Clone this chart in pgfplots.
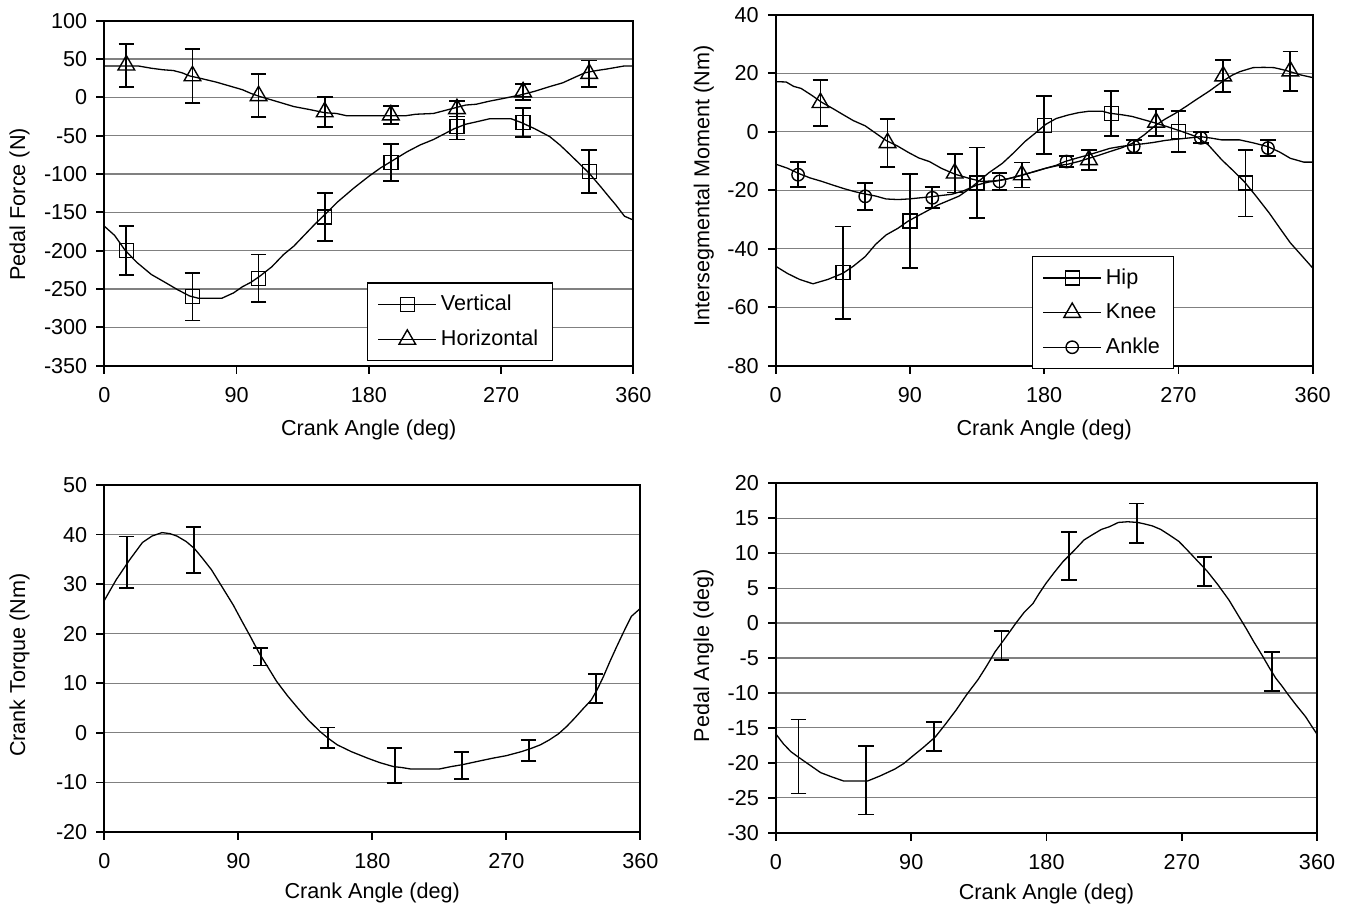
\documentclass[border=0pt]{standalone}
\usepackage{fontspec}
\setmainfont{Liberation Sans}
\usepackage{pgfplots}
\pgfplotsset{compat=1.18}
\newcommand{\fs}{\fontsize{10.8}{13}\selectfont}

\pgfplotsset{
  pan/.style={
    scale only axis,
    xmin=0, xmax=360, xtick={0,90,180,270,360},
    xtick pos=bottom, ytick pos=left,
    tick align=outside, major tick length=3.9pt,
    tick style={black, line width=0.9pt},
    axis line style={black, line width=0.9pt},
    ymajorgrids, major grid style={black!50, line width=0.6pt},
    /pgf/number format/assume math mode=true,
    tick label style={font=\fs},
    y tick label style={xshift=-1.1pt},
    x tick label style={yshift=-3.2pt},
    label style={font=\fs},
    xlabel={Crank Angle (deg)},
    xlabel style={at={(axis description cs:0.5,0)}, anchor=center, yshift=-32pt},
    legend style={draw=black, line width=0.6pt, fill=white, font=\fs,
      inner xsep=5pt, inner ysep=4pt, row sep=4.2pt, cells={anchor=west}},
    legend image code/.code={\draw[mark repeat=2,mark phase=2,#1]
      plot coordinates {(0pt,0pt) (14.5pt,0pt) (29pt,0pt)};},
    clip=false,
  },
  crv/.style={black, line width=0.65pt, mark=none, forget plot},
  ebar/.style={forget plot,
    error bars/y dir=both, error bars/y explicit,
    error bars/error bar style={draw=black, line width=0.9pt},
    error bars/error mark options={draw=black, rotate=90, mark size=3.9pt, line width=0.9pt}},
  bonly/.style={draw=none, mark=none},
  msq/.style={mark=square, mark size=3.5pt, mark options={fill=white, draw=black, line width=0.7pt}},
  mtr/.style={mark=triangle, mark size=4.8pt, mark options={fill=white, draw=black, line width=0.7pt}},
  mci/.style={mark=o, mark size=3.1pt, mark options={fill=white, draw=black, line width=0.7pt}},
}

\begin{document}
\begin{tikzpicture}
\path[use as bounding box] (0,0) rectangle (677.5pt,-453pt);

% ---------- top left: pedal force
\begin{axis}[pan,
  at={(52.15pt,-182.85pt)}, anchor=south west,
  width=264.5pt, height=172.5pt,
  ymin=-350, ymax=100, ytick={-350,-300,...,100},
  ylabel={Pedal Force (N)},
  ylabel style={at={(axis description cs:-0.160,0.468)}, anchor=center},
  legend style={at={(axis description cs:0.4967,0.2413)}, anchor=north west},
]
\addplot[crv] coordinates {
 (0,-168) (7,-180) (14,-199) (22,-215) (32,-231) (42,-242) (50,-251) (58,-259)
 (64,-262) (80,-262) (88,-255) (94,-247) (100,-241) (106,-233) (114,-221)
 (122,-205) (129,-194) (136,-180) (143,-166) (150,-153) (159,-136) (170,-118)
 (180,-103) (188,-92) (194,-85) (200,-78) (206,-71) (215,-62) (224,-55)
 (232,-47) (238,-41) (246,-35) (253,-32) (262,-28) (277,-28) (284,-33)
 (293,-41) (303,-51) (310,-62) (315,-71) (322,-84) (330,-99) (338,-117)
 (344,-131) (348,-140) (354,-155) (360,-160)};
\addplot[crv] coordinates {
 (0,41) (23,41) (32,38) (40,36) (47,35) (53,32) (58,28) (65,25) (76,20)
 (85,15) (94,10) (100,5) (106,1) (115,-4) (122,-8) (129,-12) (140,-16)
 (150,-20) (158,-21) (165,-24) (180,-24) (194,-24) (205,-24) (212,-22)
 (224,-21) (232,-17) (238,-14) (246,-10) (253,-9) (262,-5) (270,-2) (283,3)
 (293,8) (303,14) (312,19) (320,26) (327,32) (335,35) (342,37) (348,39)
 (354,41) (360,41)};
\addplot[ebar, only marks, msq] table[x=x, y=y, y error=e] {
x y e
15 -200 32
60 -260 31
105 -236 31
150 -156 31
195 -85 24
240 -38 17
285 -33 19
330 -97 28
};
\addplot[ebar, only marks, mtr] table[x=x, y=y, y error=e] {
x y e
15 42 28
60 28 35
105 2 28
150 -19 20
195 -23 12
240 -15 10
285 7 10
330 31 17
};
\addlegendimage{black, line width=0.65pt, msq}
\addlegendentry{Vertical}
\addlegendimage{black, line width=0.65pt, mtr}
\addlegendentry{Horizontal}
\end{axis}

% ---------- top right: intersegmental moment
\begin{axis}[pan,
  at={(387.85pt,-182.85pt)}, anchor=south west,
  width=268.5pt, height=175.5pt,
  ymin=-80, ymax=40, ytick={-80,-60,...,40},
  ylabel={Intersegmental Moment (Nm)},
  ylabel style={at={(axis description cs:-0.134,0.512)}, anchor=center},
  legend style={at={(axis description cs:0.4772,0.3125)}, anchor=north west},
]
\addplot[crv] coordinates {
 (0,-46) (8,-48.5) (16,-50.5) (25,-52) (35,-50.5) (45,-48.4) (52,-46) (60,-42.7)
 (67,-38.5) (74,-35.3) (82,-33) (89,-30.5) (100,-27.5) (109,-25) (116,-23.5)
 (123,-22) (130,-19.5) (135,-17.4) (143,-14) (152,-10.8) (160,-7) (167,-3.4)
 (174,-0.5) (181,2.5) (188,4.5) (196,5.7) (203,6.5) (210,7) (219,7) (224,6.3)
 (232,5.8) (239,5.2) (246,4.2) (253,3.2) (262,1.8) (271,0.3) (276,-0.6)
 (282,-1.7) (290,-4.5) (299,-9.6) (306,-13) (314,-17) (322,-22) (331,-27.9)
 (338,-33) (345,-38) (352,-42) (360,-46.6)};
\addplot[crv] coordinates {
 (0,17.1) (7,17) (12,15.5) (17,14.8) (24,12.5) (31,10) (38,8) (45.6,5.7)
 (52,3.8) (60,2) (67,-0.5) (74,-3) (82,-5) (89,-7.1) (96,-9) (103,-10.2)
 (111,-12.5) (120,-14.5) (130,-16) (138,-17) (147,-16.8) (155,-16.2)
 (166,-14.8) (174,-13.5) (181,-12.5) (188,-11.7) (196,-11.1) (203,-10.2)
 (210,-9.1) (217,-8) (224,-6.8) (232,-5.5) (239,-4) (247,-1.1) (255,2.3)
 (261,4.3) (268,6.3) (275,8.6) (282,11) (291,14) (301,17.7) (306,19.3)
 (311,20.5) (320,21.9) (327,22) (334,21.9) (340,21.2) (345,20.5) (352,19.4)
 (360,18.5)};
\addplot[crv] coordinates {
 (0,-11.1) (8,-12.5) (15,-14.2) (23,-15.8) (31,-17) (38,-18.2) (46,-19.5)
 (53,-20.5) (60,-21.3) (67,-22) (74,-23) (82,-23.2) (89,-23) (97,-22.6)
 (105,-22.2) (111,-21.8) (118,-21.4) (126,-20.2) (135,-18.2) (143,-17.2)
 (150,-16.7) (158,-15.8) (167,-14.5) (174,-13.6) (181,-12.5) (188,-11.5)
 (194,-10.2) (202,-9) (210,-7.9) (217,-6.8) (224,-5.7) (232,-5) (240,-4.5)
 (247,-4.1) (253,-3.7) (261,-3) (268,-2.6) (276,-2.2) (285,-1.7) (292,-2.2)
 (299,-2.8) (311,-2.8) (320,-3.8) (330,-5.1) (338,-7) (345,-9.1) (354,-10.4)
 (360,-10.4)};
\addplot[ebar, only marks, msq] table[x=x, y=y, y error=e] {
x y e
45 -48.2 15.8
90 -30.5 16
135 -17.5 12.1
180 2.2 9.9
225 6.3 7.7
270 0 7
315 -17.6 11.4
};
\addplot[ebar, only marks, mtr] table[x=x, y=y, y error=e] {
x y e
30 9.9 7.9
75 -3.8 8.2
120 -14.2 6.6
165 -14.8 4.3
210 -9.6 3.4
255 3.2 4.6
300 19 5.5
345 20.7 6.7
};
\addplot[ebar, only marks, mci] table[x=x, y=y, y error=e] {
x y e
15 -14.7 4.3
60 -22.1 4.6
105 -22.6 3.6
150 -17 2.9
195 -10.2 1.9
240 -5 2.2
285 -2.1 1.9
330 -5.6 2.8
};
\addlegendimage{black, line width=0.65pt, msq}
\addlegendentry{Hip}
\addlegendimage{black, line width=0.65pt, mtr}
\addlegendentry{Knee}
\addlegendimage{black, line width=0.65pt, mci}
\addlegendentry{Ankle}
\end{axis}

% ---------- bottom left: crank torque
\begin{axis}[pan,
  at={(52.15pt,-416pt)}, anchor=south west,
  width=268pt, height=173.5pt,
  ymin=-20, ymax=50, ytick={-20,-10,...,50},
  ylabel={Crank Torque (Nm)},
  ylabel style={at={(axis description cs:-0.158,0.481)}, anchor=center},
  xlabel style={yshift=1.5pt},
]
\addplot[crv] coordinates {
 (0,26.7) (8,30.9) (17,34.9) (25.6,38.4) (32,39.7) (38.7,40.4) (44,40.2)
 (48.8,39.7) (55,38.6) (60.5,37.2) (66,35.2) (72,32.9) (79,29.5) (86.6,25.8)
 (92.5,22.5) (98,19.5) (104,16.1) (110,13.2) (115.7,10.4) (123,7.5) (130,5)
 (137,2.6) (144.8,0.3) (150,-1) (156.4,-2.4) (166,-3.8) (176.8,-5.1) (185,-6)
 (194.2,-6.8) (200,-7) (206,-7.3) (215,-7.3) (224.8,-7.3) (233,-6.8)
 (240.8,-6.4) (250,-5.8) (261,-5.1) (270,-4.6) (280,-3.8) (287,-3.1)
 (293,-2.4) (299,-1.4) (305,-0.2) (310.6,1.3) (316,3) (322,5) (327,6.6)
 (331,8.7) (335,11.2) (339.6,14.4) (344,17.3) (348.4,20.1) (351,21.7)
 (354,23.5) (357,24.3) (360,25.1)};
\addplot[ebar, bonly] table[x=x, y=y, y error=e] {
x y e
15 34.4 5.2
60 36.9 4.7
105 15.4 1.8
150 -1.0 2.1
195 -6.6 3.5
240 -6.6 2.7
285 -3.5 2.1
330 8.9 2.9
};
\end{axis}

% ---------- bottom right: pedal angle
\begin{axis}[pan,
  at={(388pt,-416.35pt)}, anchor=south west,
  width=270.5pt, height=174.7pt,
  ymin=-30, ymax=20, ytick={-30,-25,...,20},
  ylabel={Pedal Angle (deg)},
  ylabel style={at={(axis description cs:-0.134,0.506)}, anchor=center},
  xlabel style={yshift=1.5pt},
]
\addplot[crv] coordinates {
 (0,-15.9) (5,-17.3) (9.9,-18.4) (15,-19.2) (21,-20.1) (29.7,-21.4) (37,-22)
 (45,-22.6) (60.9,-22.6) (69,-21.9) (79,-20.9) (85,-20.1) (90.6,-19.1)
 (98,-17.8) (106,-16.3) (113,-14.4) (120,-12.4) (127,-10.2) (134.4,-8.1)
 (140,-6.2) (145.8,-4.1) (153,-2) (160,0.1) (165,1.5) (171,2.8) (175,4.2)
 (179.7,5.7) (185,7.2) (191,8.8) (198,10.3) (205,11.9) (211,12.7)
 (216.5,13.4) (222,13.8) (227.8,14.4) (234,14.5) (240.6,14.4) (245,14.2)
 (250.5,13.9) (256,13.4) (261.8,12.6) (268,11.7) (273,10.6) (280,9) (287,7.4)
 (294,5.5) (301.4,3.3) (307,1.3) (312.8,-0.75) (318,-2.7) (324,-4.8)
 (328,-6.3) (332.6,-7.9) (337,-9.1) (341,-10.3) (346,-11.7) (352.4,-13.4)
 (356,-14.6) (360,-15.9)};
\addplot[ebar, bonly] table[x=x, y=y, y error=e] {
x y e
15 -19.1 5.3
60 -22.5 4.9
105 -16.2 2.1
150 -3.2 2.1
195 9.6 3.4
240 14.3 2.8
285 7.4 2.1
330 -6.9 2.8
};
\end{axis}
\end{tikzpicture}
\end{document}
